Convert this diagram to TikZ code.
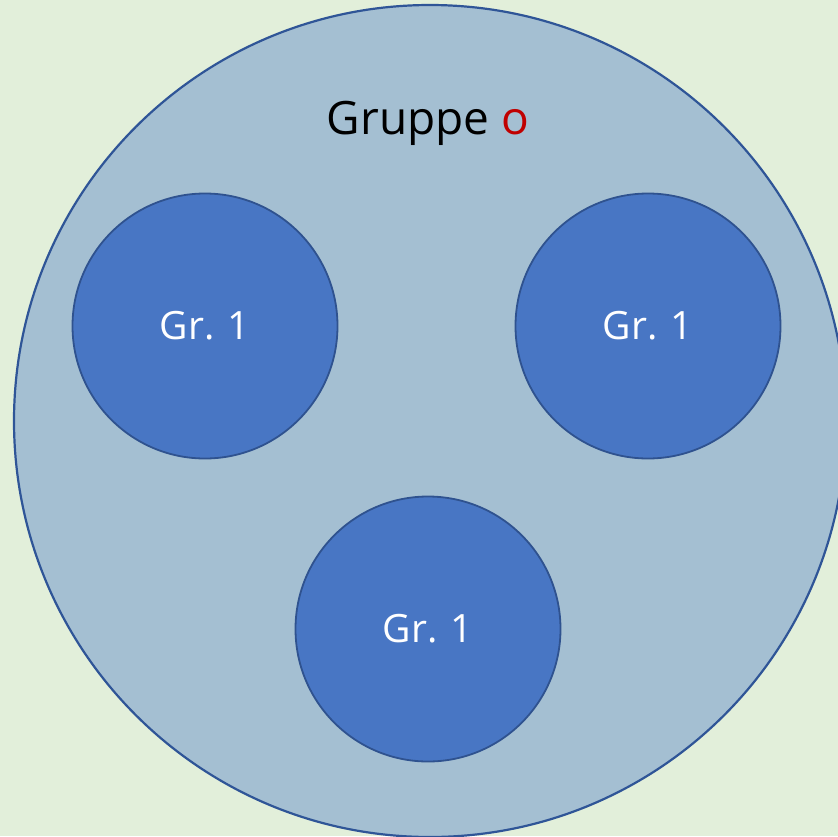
\documentclass[tikz,border=0pt]{standalone}
\usepackage{fontspec}
\setmainfont{Open Sans}
\definecolor{bgGreen}{RGB}{226,239,218}
\definecolor{outerFill}{RGB}{164,191,210}
\definecolor{outerLine}{RGB}{47,85,151}
\definecolor{innerFill}{RGB}{72,118,196}
\definecolor{innerLine}{RGB}{47,82,143}
\definecolor{labelRed}{RGB}{192,0,0}
\begin{document}
\begin{tikzpicture}[x=1pt,y=-1pt,
  outer/.style={circle,fill=outerFill,draw=outerLine,line width=2.2pt,
    minimum size=832pt,inner sep=0pt},
  group/.style={circle,fill=innerFill,draw=innerLine,line width=1.8pt,
    minimum size=265pt,inner sep=0pt,text=white,font=\fontsize{39}{46}\selectfont}]
  \fill[bgGreen] (0,0) rectangle (838,836);
  \useasboundingbox (0,0) rectangle (838,836);
  \begin{scope}
    \clip (0,0) rectangle (838,836);
    \node[outer] (all) at (430,421) {};
  \end{scope}
  \node[anchor=base,font=\fontsize{46}{52}\selectfont] (title) at (428,134)
    {Gruppe \textcolor{labelRed}{o}};
  \node[group] (g1) at (205,326) {Gr. 1};
  \node[group] (g2) at (648,326) {Gr. 1};
  \node[group] (g3) at (428,629) {Gr. 1};
\end{tikzpicture}
\end{document}
